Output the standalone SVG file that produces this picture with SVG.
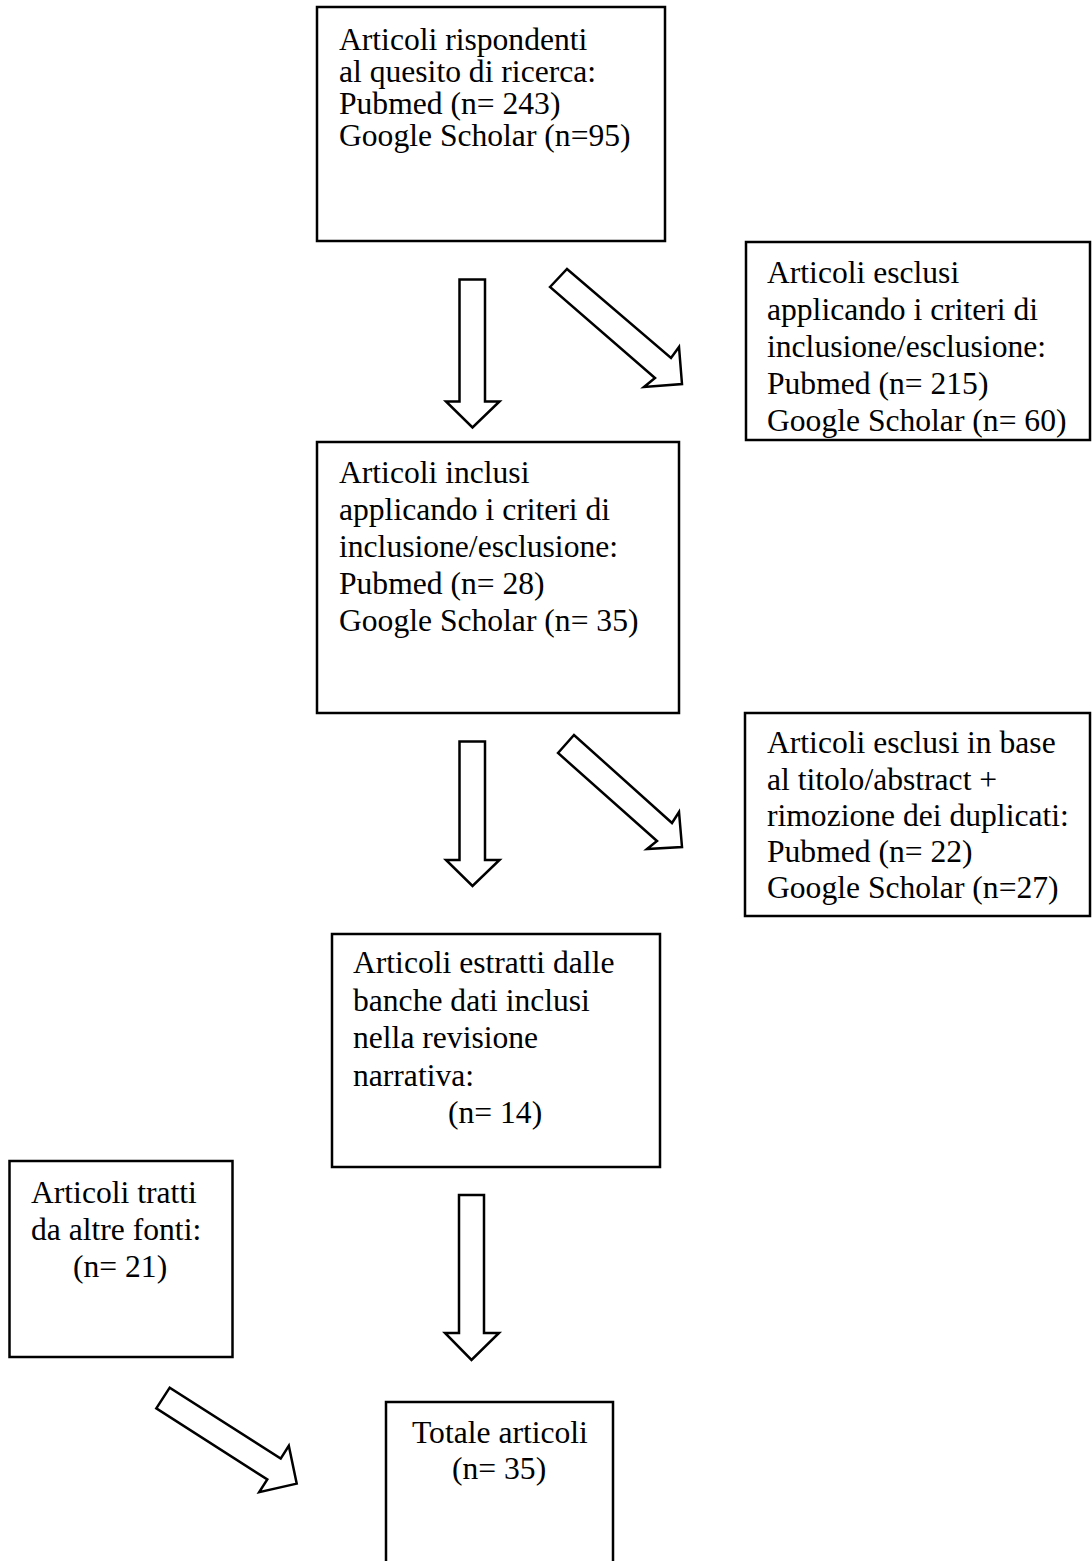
<svg xmlns="http://www.w3.org/2000/svg" width="1092" height="1561" viewBox="0 0 1092 1561">
<style>
.box{fill:#fff;stroke:#000;stroke-width:2.5}
.arr{fill:#fff;stroke:#000;stroke-width:2.5;stroke-linejoin:miter}
text{font-family:"Liberation Serif","Times New Roman",serif;font-size:31.6px;fill:#000}
</style>
<rect width="1092" height="1561" fill="#fff"/>
<g id="connectors">
<polygon class="arr" points="459.5,279.5 485,279.5 485,401.5 499.5,401.5 472.5,427.5 446,401.5 459.5,401.5"/>
<polygon class="arr" points="550,287 567,269 671,358 679,347 682,384 644,387 655,378"/>
<polygon class="arr" points="459.5,741.5 485,741.5 485,860 499.5,860 472.5,886 446,860 459.5,860"/>
<polygon class="arr" points="558,753 574,735 672,823 679,812 682,847 647,849 657,841"/>
<polygon class="arr" points="459,1195 484,1195 484,1333 499,1333 471.5,1360 445,1333 459,1333"/>
<polygon class="arr" points="156.3,1408.4 169.7,1387.6 280.7,1458.6 288.8,1445.8 296.7,1483.6 259.2,1492.2 267.3,1479.4"/>
</g>
<g id="n1">
<rect class="box" x="317" y="7" width="348" height="234"/>
<text x="339" y="50">Articoli rispondenti</text>
<text x="339" y="82">al quesito di ricerca:</text>
<text x="339" y="114">Pubmed (n= 243)</text>
<text x="339" y="146">Google Scholar (n=95)</text>
</g>
<g id="n2">
<rect class="box" x="746" y="242" width="344" height="198"/>
<text x="767" y="283">Articoli esclusi</text>
<text x="767" y="320">applicando i criteri di</text>
<text x="767" y="357">inclusione/esclusione:</text>
<text x="767" y="394">Pubmed (n= 215)</text>
<text x="767" y="431">Google Scholar (n= 60)</text>
</g>
<g id="n3">
<rect class="box" x="317" y="442" width="362" height="271"/>
<text x="339" y="483">Articoli inclusi</text>
<text x="339" y="520">applicando i criteri di</text>
<text x="339" y="557">inclusione/esclusione:</text>
<text x="339" y="594">Pubmed (n= 28)</text>
<text x="339" y="631">Google Scholar (n= 35)</text>
</g>
<g id="n4">
<rect class="box" x="745" y="713" width="345" height="203"/>
<text x="767" y="753">Articoli esclusi in base</text>
<text x="767" y="790">al titolo/abstract +</text>
<text x="767" y="826">rimozione dei duplicati:</text>
<text x="767" y="862">Pubmed (n= 22)</text>
<text x="767" y="898">Google Scholar (n=27)</text>
</g>
<g id="n5">
<rect class="box" x="332" y="934" width="328" height="233"/>
<text x="353" y="973">Articoli estratti dalle</text>
<text x="353" y="1011">banche dati inclusi</text>
<text x="353" y="1048">nella revisione</text>
<text x="353" y="1086">narrativa:</text>
<text x="448" y="1123">(n= 14)</text>
</g>
<g id="n6">
<rect class="box" x="9.5" y="1161" width="223" height="196"/>
<text x="31" y="1203">Articoli tratti</text>
<text x="31" y="1240">da altre fonti:</text>
<text x="73" y="1277">(n= 21)</text>
</g>
<g id="n7">
<rect class="box" x="386" y="1402" width="227" height="170"/>
<text x="412" y="1443">Totale articoli</text>
<text x="452" y="1479">(n= 35)</text>
</g>
</svg>
